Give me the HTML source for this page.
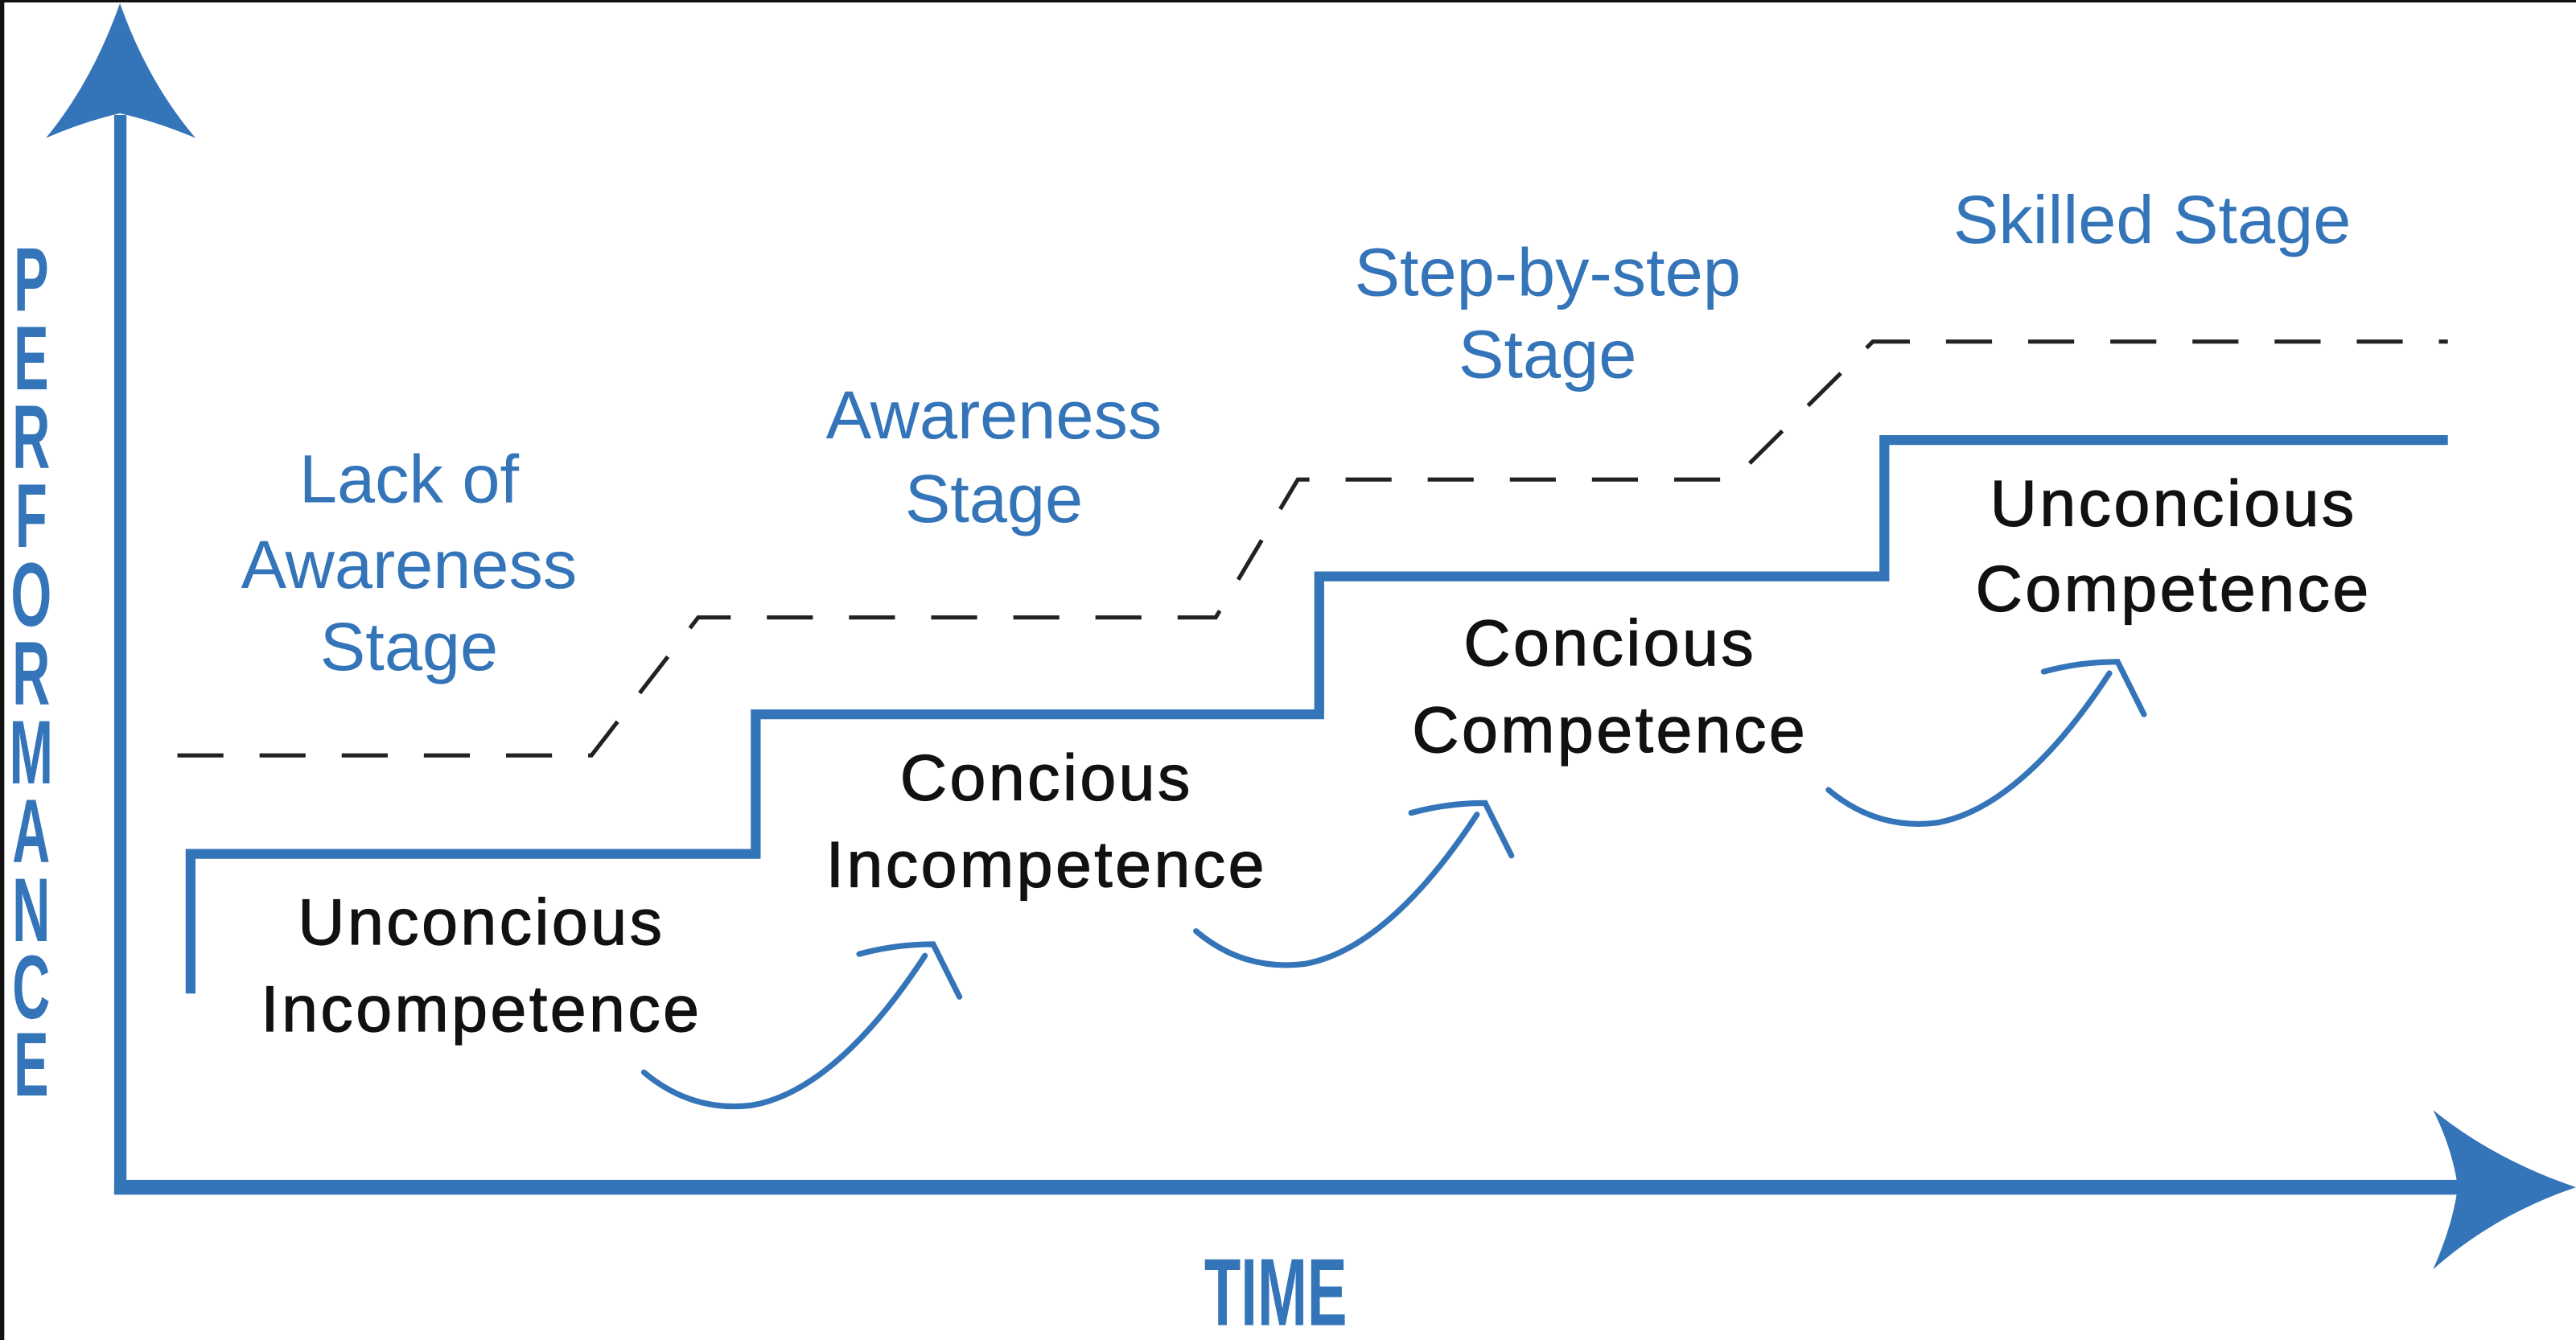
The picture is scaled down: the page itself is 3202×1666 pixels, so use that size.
<!DOCTYPE html>
<html><head><meta charset="utf-8"><style>
html,body{margin:0;padding:0;background:#fff;}
svg{display:block;}
</style></head><body>
<svg width="3202" height="1666" viewBox="0 0 1568 816" preserveAspectRatio="none" xmlns="http://www.w3.org/2000/svg">
<rect width="1568" height="816" fill="#fff"/>
<rect x="0" y="0" width="1568" height="1.5" fill="#111"/>
<rect x="0" y="0" width="2.6" height="816" fill="#111"/>
<g fill="#3474b8">
  <rect x="69.5" y="70" width="7.5" height="657"/>
  <path d="M73,2 Q90,50 119,84 Q95,74 73,69 Q51,74 28,84 Q56,50 73,2 Z"/>
  <rect x="69.5" y="718.5" width="1430" height="9"/>
  <path d="M1568,723 Q1518,706 1481,676 Q1493,700 1496,723 Q1493,746 1481,773 Q1518,740 1568,723 Z"/>
</g>
<path d="M116,605 L116,520 L460,520 L460,435 L803,435 L803,351 L1147,351 L1147,268 L1490,268" fill="none" stroke="#3474b8" stroke-width="6"/>
<path d="M108,460 L360,460 L425,376 L740,376 L790,292 L1055,292 L1140,208 L1490,208" fill="none" stroke="#222" stroke-width="2.5" stroke-dasharray="28,22"/>
<g id="ca" fill="none" stroke="#3474b8" stroke-width="3.5" stroke-linecap="round">
  <path d="M392,653 C412,670 435,676 458,673 C498,666 535,625 563,582"/>
  <path d="M523,581 Q545,575 568,575 L584,607" stroke-linejoin="miter"/>
</g>
<use href="#ca" transform="translate(336,-86)"/>
<use href="#ca" transform="translate(721,-172)"/>
<g font-family="'Liberation Sans',sans-serif" font-size="41.5" fill="#3474b8" text-anchor="middle">
  <text x="249" y="306">Lack of</text>
  <text x="249" y="358">Awareness</text>
  <text x="249" y="408">Stage</text>
  <text x="605" y="267">Awareness</text>
  <text x="605" y="318">Stage</text>
  <text x="942" y="180">Step-by-step</text>
  <text x="942" y="230">Stage</text>
  <text x="1310" y="148">Skilled Stage</text>
</g>
<g font-family="'Liberation Sans',sans-serif" font-size="39.5" fill="#111" stroke="#111" stroke-width="0.6" text-anchor="middle" letter-spacing="1.7">
  <text x="293" y="575">Unconcious</text>
  <text x="293" y="628">Incompetence</text>
  <text x="637" y="487">Concious</text>
  <text x="637" y="540">Incompetence</text>
  <text x="980" y="405">Concious</text>
  <text x="980" y="458">Competence</text>
  <text x="1323" y="320">Unconcious</text>
  <text x="1323" y="372">Competence</text>
</g>
<g transform="translate(19,0) scale(0.58,1)" font-family="'Liberation Sans',sans-serif" font-weight="bold" font-size="55" fill="#3474b8" text-anchor="middle">
  <text x="0" y="189">P</text>
  <text x="0" y="237">E</text>
  <text x="0" y="285">R</text>
  <text x="0" y="333">F</text>
  <text x="0" y="381">O</text>
  <text x="0" y="429">R</text>
  <text x="0" y="477">M</text>
  <text x="0" y="525">A</text>
  <text x="0" y="573">N</text>
  <text x="0" y="620">C</text>
  <text x="0" y="667">E</text>
</g>
<text x="733" y="807" font-family="'Liberation Sans Narrow','Liberation Sans',sans-serif" font-weight="bold" font-size="58" fill="#3474b8" textLength="87" lengthAdjust="spacingAndGlyphs">TIME</text>
</svg>
</body></html>
